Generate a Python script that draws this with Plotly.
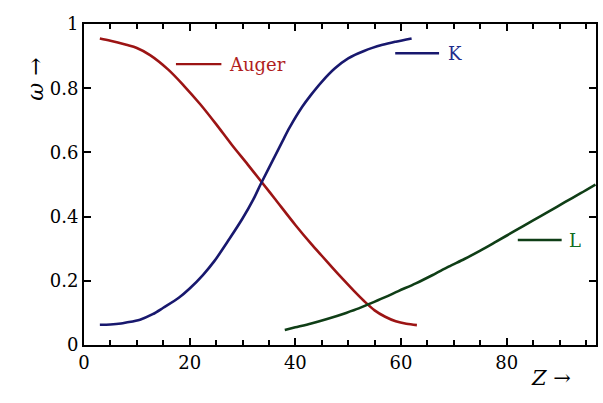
import plotly.graph_objects as go

# Auger yield
auger_z = [3, 5, 8, 10, 12.5, 16, 19, 22, 25, 28, 31, 33.5, 36, 40, 43, 45, 47,
           49, 51, 53, 55, 57, 59, 61, 63]
auger_w = [0.955, 0.948, 0.935, 0.925, 0.903, 0.857, 0.806, 0.75, 0.688, 0.623,
           0.562, 0.51, 0.458, 0.374, 0.315, 0.278, 0.241, 0.205, 0.17, 0.137,
           0.108, 0.088, 0.074, 0.066, 0.062]

# K-shell fluorescence yield
k_z = [3, 5, 7, 8, 10.6, 13, 15, 18, 20, 22.5, 24.7, 27.5, 30, 32, 33.5, 36.4,
       37.6, 38.9, 41.3, 43, 45, 47.5, 50, 53, 56.5, 59, 62]
k_w = [0.063, 0.064, 0.067, 0.07, 0.079, 0.096, 0.116, 0.148, 0.176, 0.218,
       0.262, 0.33, 0.394, 0.452, 0.503, 0.597, 0.636, 0.677, 0.742, 0.78, 0.82,
       0.862, 0.893, 0.916, 0.935, 0.945, 0.955]

# L-shell fluorescence yield
l_z = [38, 40, 43, 46, 49.6, 52, 54, 57, 59.5, 62.8, 66, 69, 72, 75, 78, 81.6,
       85, 88, 91, 94, 96.8]
l_w = [0.047, 0.055, 0.067, 0.081, 0.1, 0.114, 0.128, 0.149, 0.168, 0.192,
       0.218, 0.244, 0.268, 0.294, 0.322, 0.356, 0.388, 0.416, 0.445, 0.473, 0.5]

x_ticks = [0, 20, 40, 60, 80]
y_ticks = [0, 0.2, 0.4, 0.6, 0.8, 1]

series = [
    ("Auger", auger_z, auger_w, "#9C1414", "#B01E1E", (17.4, 26.0, 0.875), 27.0),
    ("K", k_z, k_w, "#18186E", "#1E2C8C", (58.9, 67.2, 0.909), 68.6),
    ("L", l_z, l_w, "#0F3E16", "#0E6E22", (82.1, 90.4, 0.327), 91.4),
]

FONT = "DejaVu Serif"
fig = go.Figure()
for name, zs, ws, lc, tc, (x0, x1, yl), xt in series:
    fig.add_trace(go.Scatter(x=zs, y=ws, mode="lines", name=name,
                             line=dict(color=lc, width=2.6, shape="spline",
                                       smoothing=0.9),
                             showlegend=False))
    fig.add_shape(type="line", x0=x0, x1=x1, y0=yl, y1=yl, xref="x", yref="y",
                  line=dict(color=lc, width=2.4))
    fig.add_annotation(x=xt, y=yl, xref="x", yref="y", text=name,
                       showarrow=False, xanchor="left", yanchor="middle",
                       font=dict(family=FONT, size=18, color=tc))

fig.add_annotation(x=0.955, y=-0.146, xref="paper", yref="paper",
                   text="<i>Z</i> →", showarrow=False,
                   font=dict(family=FONT, size=21, color="black"))
fig.add_annotation(x=-0.122, y=0.9, xref="paper", yref="paper",
                   text="<i>ω</i> →", showarrow=False, textangle=-90,
                   font=dict(family=FONT, size=22, color="black"))

axis_common = dict(showline=True, linecolor="black", linewidth=2,
                   mirror="allticks", ticks="inside", tickcolor="black",
                   tickwidth=1.5, showgrid=False, zeroline=False,
                   tickfont=dict(family=FONT, size=18, color="black"))
fig.update_xaxes(range=[0, 96.9], tickvals=x_ticks, ticklen=7,
                 minor=dict(dtick=5, tick0=0, ticks="inside", ticklen=5,
                            tickcolor="black", tickwidth=1.5, showgrid=False),
                 **axis_common)
fig.update_yaxes(range=[0, 1], tickvals=y_ticks, ticklen=7, **axis_common)

fig.update_layout(width=603, height=403, plot_bgcolor="white",
                  paper_bgcolor="white",
                  margin=dict(l=84, r=5, t=24, b=58))
fig.write_html("out.html")
